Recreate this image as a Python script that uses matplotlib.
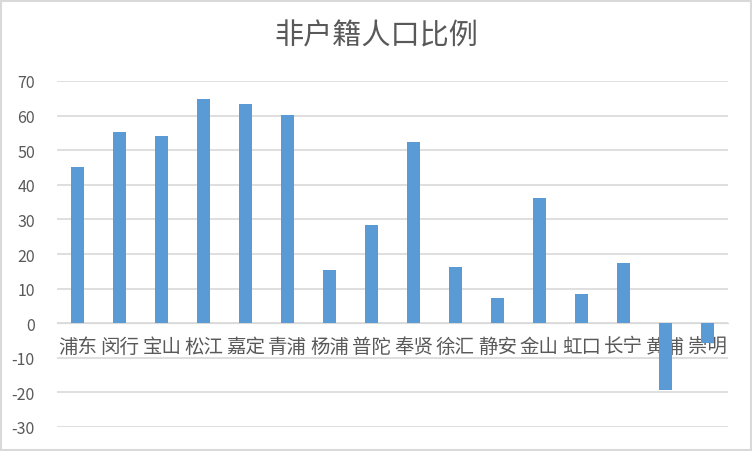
import matplotlib.pyplot as plt
from matplotlib.patches import Rectangle

plt.rcParams['font.family'] = ['Noto Sans CJK SC', 'DejaVu Sans']

districts = ['浦东', '闵行', '宝山', '松江', '嘉定', '青浦', '杨浦', '普陀',
             '奉贤', '徐汇', '静安', '金山', '虹口', '长宁', '黄浦', '崇明']
ratio = [45.1, 55.2, 54.0, 64.7, 63.3, 60.3, 15.3, 28.3,
         52.3, 16.3, 7.3, 36.1, 8.3, 17.3, -19.2, -5.8]
yticks = list(range(-30, 80, 10))

text_color = '#595959'
grid_color = '#d9d9d9'

fig = plt.figure(figsize=(7.52, 4.52), dpi=100)
ax = fig.add_axes([57 / 752, 1 - 428 / 452, 671 / 752, 346 / 452])

x = list(range(len(districts)))
ax.bar(x, ratio, width=0.31, color='#5b9bd5', zorder=3)

ax.set_xlim(-0.5, len(districts) - 0.5)
ax.set_ylim(-30, 70)
ax.set_yticks(yticks)
ax.set_yticklabels([str(v) for v in yticks], fontsize=11.5, color=text_color)
ax.yaxis.grid(True, color=grid_color, linewidth=1.2, zorder=0)
ax.tick_params(axis='y', length=0, pad=16)

# category labels sit right under the zero line, like Excel does
ax.spines['bottom'].set_position(('data', 0))
ax.spines['bottom'].set_color(grid_color)
ax.spines['bottom'].set_zorder(1)
for s in ['top', 'right', 'left']:
    ax.spines[s].set_visible(False)
ax.set_xticks(x)
ax.set_xticklabels(districts, fontsize=14, color=text_color, fontweight='light')
ax.tick_params(axis='x', length=0, pad=9)

fig.text(0.5, 1 - 36 / 452, '非户籍人口比例', ha='center', va='center',
         fontsize=21, color=text_color, fontweight='light')

fig.patches.append(Rectangle((1.5 / 752, 1.5 / 452), 749 / 752, 449 / 452,
                             transform=fig.transFigure, fill=False,
                             edgecolor='#d9d9d9', linewidth=1.5))

plt.savefig('out.png', dpi=100)
